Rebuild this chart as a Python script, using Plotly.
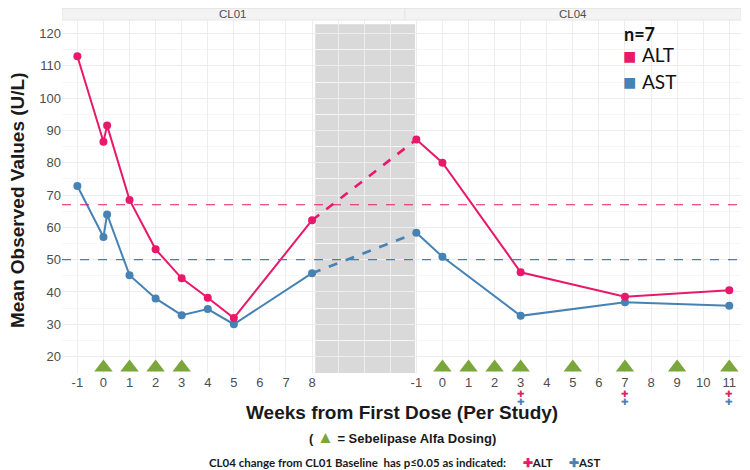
import plotly.graph_objects as go

# ---- data ----
cl01_weeks = [-1, 0, 0.14, 1, 2, 3, 4, 5, 8]
alt_cl01 = [113, 86.5, 91.5, 68.5, 53.2, 44.2, 38.2, 31.9, 62.2]
ast_cl01 = [72.8, 57, 64, 45.2, 38, 32.8, 34.7, 30, 45.8]
cl04_weeks = [-1, 0, 3, 7, 11]
alt_cl04 = [87.2, 80, 46.1, 38.5, 40.5]
ast_cl04 = [58.3, 50.9, 32.6, 36.8, 35.7]
alt_ref = 67
ast_ref = 50
dose_cl01 = [0, 1, 2, 3]
dose_cl04 = [0, 1, 2, 3, 5, 7, 9, 11]
sig_cl04 = [3, 7, 11]
cl01_ticks = list(range(-1, 9))
cl04_ticks = list(range(-1, 12))

PINK = "#E8196A"
BLUE = "#4682B4"
GREEN = "#7BA63A"
CL04_OFFSET = 14  # position of CL04 week 0 on the shared axis
CL01_OFFSET = 1

def p01(w):
    return [x + CL01_OFFSET for x in w]

def p04(w):
    return [x + CL04_OFFSET for x in w]

# page body has an 8px margin: compensate
O = 8
W, H = 750 - O, 470 - O
L, R, T, B = 62 - O, 741 - O, 20 - O, 373 - O

def px(xp):
    return (xp - O - L) / (R - L)

def py(yp):
    return (B - (yp - O)) / (B - T)

def note(x, y, text, font, xanchor="center", **kw):
    fig.add_annotation(x=x, y=y, xref="paper", yref="paper", text=text, showarrow=False,
                       xanchor=xanchor, yanchor="middle", font=font, **kw)

fig = go.Figure()

# dashed bridge between studies
for vals01, vals04, col in [(alt_cl01, alt_cl04, PINK), (ast_cl01, ast_cl04, BLUE)]:
    fig.add_trace(go.Scatter(
        x=[p01(cl01_weeks)[-1], p04(cl04_weeks)[0]], y=[vals01[-1], vals04[0]],
        mode="lines", line=dict(color=col, width=2.6, dash="dash"),
        showlegend=False, hoverinfo="skip"))

for xs, ys, col in [(p01(cl01_weeks), ast_cl01, BLUE), (p04(cl04_weeks), ast_cl04, BLUE),
                    (p01(cl01_weeks), alt_cl01, PINK), (p04(cl04_weeks), alt_cl04, PINK)]:
    fig.add_trace(go.Scatter(x=xs, y=ys, mode="lines+markers",
                             line=dict(color=col, width=2),
                             marker=dict(color=col, size=8),
                             showlegend=False))

# dosing triangles
dose_x = p01(dose_cl01) + p04(dose_cl04)
fig.add_trace(go.Scatter(x=dose_x, y=[16.6] * len(dose_x), mode="markers",
                         marker=dict(symbol="triangle-up", size=16, color=GREEN),
                         showlegend=False, cliponaxis=False))

# reference lines
fig.add_hline(y=alt_ref, line=dict(color=PINK, width=1.2, dash="dash"))
fig.add_hline(y=ast_ref, line=dict(color="#3F7FC0", width=1.2, dash="dash"))

# gray gap band
fig.add_shape(type="rect", xref="x", yref="y", x0=9.12, x1=12.95, y0=14.0, y1=122.9,
              fillcolor="#D9D9D9", line=dict(width=0), layer="below")

# facet strips (page y 8..20)
split = 12.56
xmin, xmax = -0.59, 25.45
strip_h = 11.5 / (B - T)
fig.add_shape(type="rect", xref="x", yref="paper", x0=xmin, x1=split, y0=1, y1=1 + strip_h,
              fillcolor="#F3F3F3", line=dict(color="#E6E6E6", width=1))
fig.add_shape(type="rect", xref="x", yref="paper", x0=split, x1=xmax, y0=1, y1=1 + strip_h,
              fillcolor="#F3F3F3", line=dict(color="#E6E6E6", width=1))
for lab, cx in [("CL01", (xmin + split) / 2), ("CL04", (split + xmax) / 2)]:
    fig.add_annotation(x=cx, y=py(13.5), xref="x", yref="paper",
                       text=lab, showarrow=False, xanchor="center", yanchor="middle",
                       font=dict(family="Liberation Sans", size=11.5, color="#4D4D4D"))

# significance markers (ALT above AST)
for w in sig_cl04:
    for col, yy in [(PINK, 393), (BLUE, 401)]:
        fig.add_annotation(x=w + CL04_OFFSET, y=py(yy), xref="x", yref="paper", text="✚",
                           showarrow=False, xanchor="center", yanchor="middle",
                           font=dict(size=8.5, color=col))

# legend (annotations)
note(px(622), py(34), "<b>n=7</b>", dict(family="Lato", size=18, color="#111"), xanchor="left")
for lab, col, yy in [("ALT", PINK, 55), ("AST", BLUE, 81)]:
    note(px(621), py(yy), "■", dict(size=22, color=col), xanchor="left")
    note(px(640), py(yy), lab, dict(family="Lato", size=19, color="#111"), xanchor="left")

# axis titles and bottom texts
note(px(17), py(200), "<b>Mean Observed Values (U/L)</b>",
     dict(family="Liberation Sans", size=19, color="#1a1a1a"), textangle=-90)
note(px(402), py(412), "<b>Weeks from First Dose (Per Study)</b>",
     dict(family="Liberation Sans", size=19, color="#1a1a1a"))
note(px(402), py(437),
     "<b>( <span style='color:%s;font-size:17px'>▲</span> = Sebelipase Alfa Dosing)</b>" % GREEN,
     dict(family="Liberation Sans", size=13, color="#1a1a1a"))
note(px(404), py(462),
     ("<b>CL04 change from CL01 Baseline  has p≤0.05 as indicated:"
      "      <span style='color:%s'>✚</span>ALT      "
      "<span style='color:%s'>✚</span>AST</b>") % (PINK, BLUE),
     dict(family="Lato", size=11.5, color="#1a1a1a"))

tickvals = p01(cl01_ticks) + [10, 11, 12] + p04(cl04_ticks)
ticktext = [str(t) for t in cl01_ticks] + ["", "", ""] + [str(t) for t in cl04_ticks]

fig.update_xaxes(range=[xmin, xmax], tickvals=tickvals, ticktext=ticktext,
                 showgrid=True, gridcolor="#EDEDED", gridwidth=1, zeroline=False,
                 tickfont=dict(family="Liberation Sans", size=13, color="#4D4D4D"),
                 ticks="", showline=False, automargin=False)
fig.update_yaxes(range=[14.9, 124.2], tickvals=list(range(20, 121, 10)),
                 showgrid=True, gridcolor="#EDEDED", zeroline=False,
                 minor=dict(showgrid=True, gridcolor="#F6F6F6", dtick=5, tick0=15),
                 tickfont=dict(family="Liberation Sans", size=13, color="#4D4D4D"),
                 automargin=False)

fig.update_layout(width=W, height=H, margin=dict(l=L, r=W - R, t=T, b=H - B),
                  plot_bgcolor="white", paper_bgcolor="white")

fig.write_html("out.html")
